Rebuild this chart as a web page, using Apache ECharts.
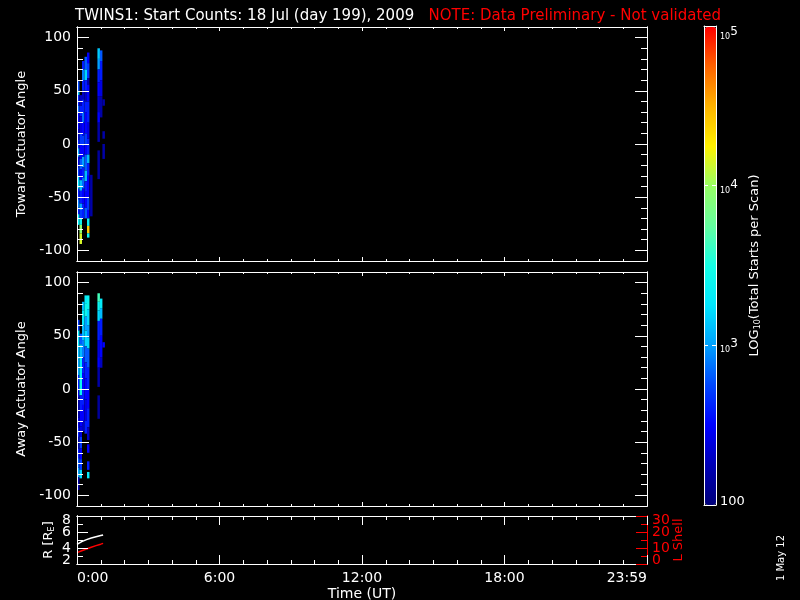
<!DOCTYPE html>
<html><head><meta charset="utf-8">
<script src="https://cdn.jsdelivr.net/npm/echarts@6/dist/echarts.min.js"></script>
<style>html,body{margin:0;padding:0;background:#000}#c{width:800px;height:600px}</style>
</head><body><div id="c"></div>
<script>
const FONT = 'DejaVu Sans';
// ---- data ----
// start time (hours UT) of each scan column; every column spans colWidth hours
const colStart = [0.00, 0.105, 0.21, 0.315, 0.42, 0.55, 0.86, 0.965, 1.07];
const colWidth = 0.105;
// per column: [angleLow, angleHigh, log10(total starts per scan)]
const towardCols = [
  [[50,59,2.75],[46,50,3.1],[36,46,2.6],[30,36,2.85],[14,30,2.5],[4,14,2.3],[-4,4,2.6],[-12,-4,3.05],[-22,-12,2.4],[-30,-22,2.7],[-42,-30,3.25],[-52,-42,2.6],[-60,-52,2.9],[-66,-60,2.6],[-76,-66,3.35]],
  [[36,46,2.3],[26,36,2.6],[10,26,2.4],[0,10,2.7],[-14,0,2.5],[-24,-14,2.8],[-34,-24,2.5],[-44,-34,3.1],[-56,-44,2.6],[-62,-56,3.0],[-70,-62,2.7],[-76,-70,3.4],[-84,-76,3.95],[-94,-84,4.15]],
  [[70,78,2.6],[60,70,2.9],[50,60,2.6],[42,50,2.3],[30,42,2.6],[20,30,2.85],[8,20,2.5],[-2,8,2.7],[-12,-2,2.5],[-22,-12,3.0],[-32,-22,2.6],[-42,-32,2.85],[-56,-42,2.5],[-70,-56,2.6]],
  [[70,82,2.8],[60,70,3.2],[50,60,2.6],[40,50,2.3],[30,40,2.6],[10,30,2.5],[0,10,2.7],[-10,0,2.5],[-25,-10,2.8],[-35,-25,3.1],[-45,-35,2.6],[-60,-45,2.5],[-70,-60,2.8]],
  [[76,86,2.5],[62,76,2.7],[56,62,2.2],[40,56,2.5],[20,40,2.6],[5,20,2.4],[-10,5,2.6],[-18,-10,3.1],[-30,-18,2.6],[-50,-30,2.5],[-62,-50,2.7],[-70,-62,2.5],[-77,-70,3.35],[-84,-77,4.4],[-88,-84,3.4]],
  [[-68,-29,2.2]],
  [[80,90,3.15],[70,80,3.0],[58,70,2.6],[45,58,2.5],[30,45,2.3],[20,30,2.5],[2,20,2.2],[-33,-6,2.15]],
  [[78,88,2.8],[60,78,2.6],[45,60,2.4],[25,45,2.2]],
  [[36,42,2.2],[5,12,2.2],[-14,0,2.2]]
];
const awayCols = [
  [[55,65,2.7],[40,55,3.3],[28,40,3.1],[13,28,3.0],[0,13,2.6],[-8,0,2.4],[-27,-8,2.2],[-36,-27,2.4],[-45,-36,2.6],[-56,-45,2.2],[-65,-56,2.6],[-74,-65,2.8],[-83,-74,3.0],[-95,-83,2.2]],
  [[42,52,2.8],[30,42,3.1],[10,30,3.3],[-6,10,3.4],[-20,-6,2.6],[-35,-20,2.5],[-45,-35,2.4],[-56,-45,2.7],[-66,-56,2.5],[-76,-66,2.7],[-84,-76,3.2]],
  [[74,82,3.1],[60,74,3.3],[46,60,3.1],[30,46,2.9],[15,30,2.6],[0,15,2.5],[-15,0,2.6],[-30,-15,2.5],[-40,-30,2.3]],
  [[80,88,3.3],[68,80,3.4],[55,68,3.0],[40,55,3.2],[25,40,2.8],[10,25,2.6],[-10,10,2.5],[-30,-10,2.4],[-42,-30,2.6]],
  [[75,88,3.4],[60,75,3.2],[48,60,3.0],[38,48,3.2],[20,38,2.8],[0,20,2.6],[-18,0,2.5],[-36,-18,2.6],[-48,-36,2.3],[-60,-52,2.5],[-76,-68,2.6],[-84,-78,3.3]],
  [],
  [[82,90,3.65],[74,82,3.4],[64,74,3.2],[46,64,2.6],[30,46,2.4],[20,30,2.5],[2,20,2.2],[-28,-6,2.15]],
  [[76,85,3.3],[66,76,3.1],[50,66,2.6],[30,50,2.5],[20,30,2.3]],
  [[39,44,2.5]]
];
// spacecraft orbit
const orbitHours = [0, 0.2, 0.4, 0.6, 0.8, 1.0, 1.1];
const orbitR = [4.45, 4.8, 5.05, 5.25, 5.4, 5.55, 5.62];
const orbitL = [7.1, 8.3, 9.4, 10.5, 11.5, 12.4, 12.9];
// ticks & labels
const timeMajor = [0, 6, 12, 18, 24];
const timeLabels = ['0:00', '6:00', '12:00', '18:00', '23:59'];
const timeMinor = [1,2,3,4,5,7,8,9,10,11,13,14,15,16,17,19,20,21,22,23];
const angleMajor = [-100, -50, 0, 50, 100];
const angleMinor = [-90,-80,-70,-60,-40,-30,-20,-10,10,20,30,40,60,70,80,90];
const rEdgeTicks = [2, 8], rInnerTicks = [4, 6], rMinor = [3, 5, 7];
const lEdgeTicks = [0, 30], lInnerTicks = [10, 20], lMinor = [5, 15, 25];
const cbarExp = [2, 3, 4, 5];
const cbarInner = [3, 4];

const cmap = ['#00007a','#0000b4','#0000ff','#0046ff','#00a0ff','#00e6ff','#14ffe6','#64ffa0','#96ff64','#fff000','#ffb400','#ff6400','#ff0000'];

function cells(cols) {
  const out = [];
  cols.forEach((segs, i) => segs.forEach(s => out.push([colStart[i], colStart[i] + colWidth, s[0], s[1], s[2]])));
  return out;
}

const gridBase = {containLabel: false, outerBoundsMode: 'none', show: false};
const grids = [
  Object.assign({left: 77, top: 27, width: 570, height: 234}, gridBase),
  Object.assign({left: 77, top: 272, width: 570, height: 234}, gridBase),
  Object.assign({left: 77, top: 516, width: 570, height: 48}, gridBase),
  Object.assign({left: 704, top: 26, width: 12, height: 479}, gridBase)
];
const xAxes = [], yAxes = [];
const W = '#fff';
const RED = '#ff0000';
function line(c) { return {show: true, onZero: false, lineStyle: {color: c, width: 1}}; }
function addX(gi, pos, ticks, len, opt) {
  xAxes.push(Object.assign({type: 'value', gridIndex: gi, position: pos, min: 0, max: 24, z: 10,
    axisLine: line(W), splitLine: {show: false},
    axisTick: {show: true, inside: true, length: len, customValues: ticks, lineStyle: {color: W}},
    axisLabel: {show: false}}, opt || {}));
  return xAxes.length - 1;
}
function addY(gi, pos, min, max, ticks, len, color, opt) {
  yAxes.push(Object.assign({type: 'value', gridIndex: gi, position: pos, min: min, max: max, z: 10,
    axisLine: line(color), splitLine: {show: false},
    axisTick: {show: true, inside: true, length: len, customValues: ticks, lineStyle: {color: color}},
    axisLabel: {show: false}}, opt || {}));
  return yAxes.length - 1;
}
const nameStyle = (c, rich) => ({color: c, fontFamily: FONT, fontSize: 13, rich: rich});
const subRich = (c) => ({s: {fontSize: 8, fontFamily: FONT, color: c, padding: [6, 0, 0, 0]}});
const timeLabelOpt = {axisLabel: {show: true, customValues: timeMajor, formatter: v => timeLabels[timeMajor.indexOf(v)],
  color: W, fontFamily: FONT, fontSize: 14, margin: 7, alignMinLabel: 'left', alignMaxLabel: 'right',
  showMinLabel: true, showMaxLabel: true, hideOverlap: false},
  name: 'Time (UT)', nameLocation: 'middle', nameGap: 23, nameMoveOverlap: false,
  nameTextStyle: {color: W, fontFamily: FONT, fontSize: 14}};
const angleLabel = (name) => ({axisLabel: {show: true, customValues: angleMajor, color: W, fontFamily: FONT, fontSize: 14, margin: 6,
  showMinLabel: true, showMaxLabel: true, hideOverlap: false},
  name: name, nameLocation: 'middle', nameRotate: 90, nameGap: 49, nameMoveOverlap: false, nameTextStyle: nameStyle(W)});

const ax = [];
for (let g = 0; g < 2; g++) {
  const xb = addX(g, 'bottom', timeMajor, 4);
  addX(g, 'bottom', timeMinor, 2);
  addX(g, 'top', timeMajor, 4);
  addX(g, 'top', timeMinor, 2);
  const yl = addY(g, 'left', -110, 110, angleMajor, 12, W, angleLabel(g === 0 ? 'Toward Actuator Angle' : 'Away Actuator Angle'));
  addY(g, 'left', -110, 110, angleMinor, 6, W);
  addY(g, 'right', -110, 110, angleMajor, 12, W);
  addY(g, 'right', -110, 110, angleMinor, 6, W);
  ax.push([xb, yl]);
}
// orbit panel
const x2 = addX(2, 'bottom', timeMajor, 9, timeLabelOpt);
addX(2, 'bottom', timeMinor, 4);
addX(2, 'top', timeMajor, 9);
addX(2, 'top', timeMinor, 4);
const edgeRich = (c) => ({
  t: {color: c, fontSize: 14, fontFamily: FONT, padding: [8, 0, 0, 0]},
  b: {color: c, fontSize: 14, fontFamily: FONT, padding: [0, 0, 8, 0]}});
const edgeFmt = (top) => v => (v === top ? '{t|' : '{b|') + v + '}';
const plainLbl = (c, vals, margin) => ({axisLabel: {show: true, customValues: vals, margin: margin, color: c, fontFamily: FONT, fontSize: 14,
  showMinLabel: true, showMaxLabel: true, hideOverlap: false}});
const yR = addY(2, 'left', 2, 8, rEdgeTicks, 11, W, {
  axisLabel: {show: true, customValues: rEdgeTicks, margin: 6, formatter: edgeFmt(8), rich: edgeRich(W),
    showMinLabel: true, showMaxLabel: true, hideOverlap: false},
  name: 'R [R{s|E}]', nameLocation: 'middle', nameRotate: 90, nameGap: 21, nameMoveOverlap: false,
  nameTextStyle: nameStyle(W, subRich(W))});
addY(2, 'left', 2, 8, rInnerTicks, 11, W, plainLbl(W, rInnerTicks, 6));
addY(2, 'left', 2, 8, rMinor, 6, W);
const yL = addY(2, 'right', 0, 30, lEdgeTicks, 11, RED, {
  axisLabel: {show: true, customValues: lEdgeTicks, margin: 5, formatter: edgeFmt(30), rich: edgeRich(RED),
    showMinLabel: true, showMaxLabel: true, hideOverlap: false},
  name: 'L Shell', nameLocation: 'middle', nameRotate: 90, nameGap: 25, nameMoveOverlap: false,
  nameTextStyle: nameStyle(RED)});
addY(2, 'right', 0, 30, lInnerTicks, 11, RED, plainLbl(RED, lInnerTicks, 5));
addY(2, 'right', 0, 30, lMinor, 6, RED);
// colour bar frame and labels
addX(3, 'bottom', [], 0, {min: 0, max: 1, axisTick: {show: false}});
addX(3, 'top', [], 0, {min: 0, max: 1, axisTick: {show: false}});
addY(3, 'left', 2, 5, cbarInner, 4, W);
const cbFmt = v => v === 2 ? '{n|100}' : '{s' + (v === 5 ? 'T' : '') + '|10}{e' + (v === 5 ? 'T' : '') + '|' + v + '}';
addY(3, 'right', 2, 5, cbarInner, 4, W, {
  axisLabel: {show: true, customValues: cbarExp, margin: 4, formatter: cbFmt, showMinLabel: true, showMaxLabel: true, hideOverlap: false, rich: {
    n: {color: W, fontSize: 13, fontFamily: FONT, padding: [0, 0, 6, 0]},
    s: {color: W, fontSize: 8, fontFamily: FONT, padding: [10, 0, 0, 0]},
    e: {color: W, fontSize: 12, fontFamily: FONT, padding: [0, 0, 2, 0]},
    sT: {color: W, fontSize: 8, fontFamily: FONT, padding: [22, 0, 0, 0]},
    eT: {color: W, fontSize: 12, fontFamily: FONT, padding: [12, 0, 0, 0]}}},
  name: 'LOG{s|10}(Total Starts per Scan)', nameLocation: 'middle', nameRotate: 90, nameGap: 32, nameMoveOverlap: false,
  nameTextStyle: nameStyle(W, subRich(W))});

function renderCell(params, api) {
  const p0 = api.coord([api.value(0), api.value(3)]);
  const p1 = api.coord([api.value(1), api.value(2)]);
  return {type: 'rect', shape: {x: p0[0], y: p0[1], width: p1[0] - p0[0], height: p1[1] - p0[1]},
    style: {fill: api.visual('color')}};
}

const option = {
  backgroundColor: '#000',
  animation: false,
  textStyle: {fontFamily: FONT},
  title: {left: 75, top: 9, padding: 0,
    text: '{w|TWINS1: Start Counts: 18 Jul (day 199), 2009}   {r|NOTE: Data Preliminary - Not validated}',
    textStyle: {fontWeight: 'normal', fontSize: 15, rich: {w: {color: W, fontSize: 15, fontWeight: 'normal', fontFamily: FONT},
      r: {color: RED, fontSize: 15, fontWeight: 'normal', fontFamily: FONT}}}},
  grid: grids,
  xAxis: xAxes,
  yAxis: yAxes,
  visualMap: {type: 'continuous', min: 2, max: 5, dimension: 4, seriesIndex: [0, 1], inRange: {color: cmap},
    orient: 'vertical', left: 705, top: 27, itemWidth: 11, itemHeight: 478, padding: 0,
    calculable: false, text: null, hoverLink: false, z: 4},
  graphic: [{type: 'text', x: 781, y: 558, rotation: Math.PI / 2,
    style: {text: '1 May 12', fill: W, font: '10px "DejaVu Sans"', align: 'center', verticalAlign: 'middle'}}],
  series: [
    {type: 'custom', name: 'toward', xAxisIndex: ax[0][0], yAxisIndex: ax[0][1], data: cells(towardCols),
      encode: {x: [0, 1], y: [2, 3]}, renderItem: renderCell, silent: true},
    {type: 'custom', name: 'away', xAxisIndex: ax[1][0], yAxisIndex: ax[1][1], data: cells(awayCols),
      encode: {x: [0, 1], y: [2, 3]}, renderItem: renderCell, silent: true},
    {type: 'line', xAxisIndex: x2, yAxisIndex: yR, data: orbitHours.map((t, i) => [t, orbitR[i]]),
      showSymbol: false, lineStyle: {color: W, width: 1.5}, silent: true},
    {type: 'line', xAxisIndex: x2, yAxisIndex: yL, data: orbitHours.map((t, i) => [t, orbitL[i]]),
      showSymbol: false, lineStyle: {color: RED, width: 1.5}, silent: true}
  ]
};
const chart = echarts.init(document.getElementById('c'), null, {renderer: 'canvas'});
chart.setOption(option);
</script>
</body></html>
